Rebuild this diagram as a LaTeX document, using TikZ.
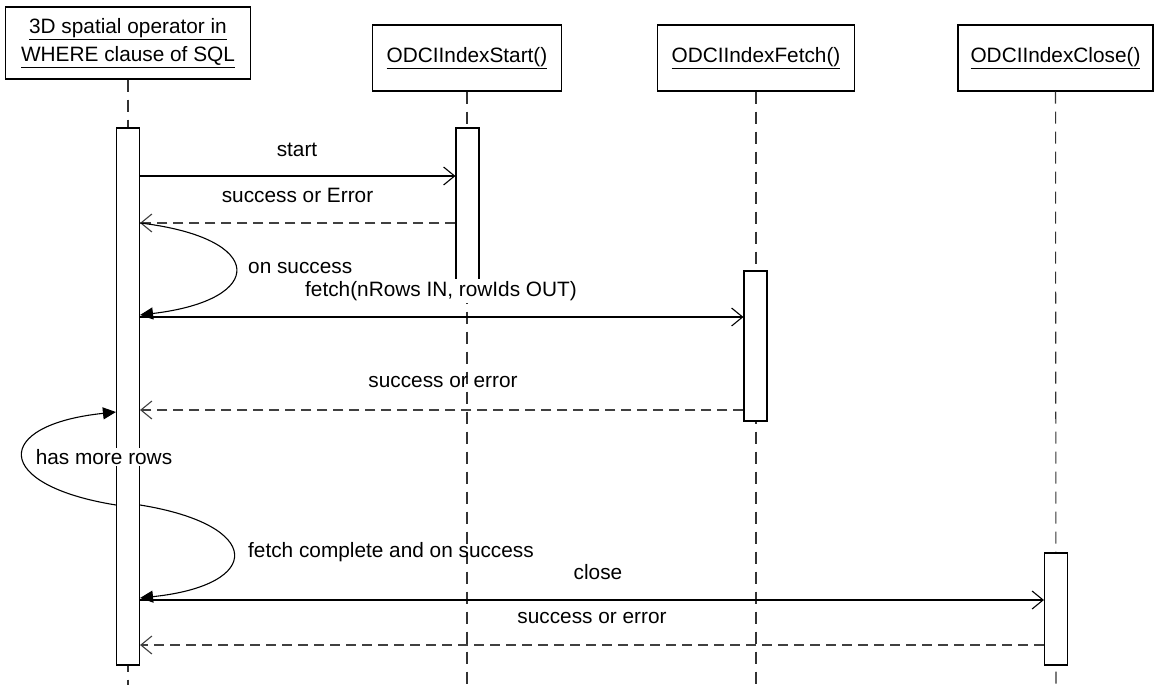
\documentclass[tikz,border=0pt]{standalone}
\usepackage{fontspec}
\setmainfont{Liberation Sans}
\usetikzlibrary{arrows.meta}

\begin{document}
\begin{tikzpicture}[
		x=1pt, y=-1pt,
		every node/.style={font=\fontsize{20.8}{28}\selectfont},
		object/.style={draw, line width=1.1pt, fill=white, minimum height=66pt, align=center},
		bar/.style={draw, line width=1.1pt, fill=white, minimum width=23pt, inner sep=0pt},
		lifeline/.style={line width=1.1pt, black!80, dash pattern=on 12pt off 8pt},
		call/.style={line width=1.1pt, -{Straight Barb[length=11pt,width=18pt]}},
		reply/.style={line width=1.1pt, black!75, dash pattern=on 10pt off 6pt, -{Straight Barb[length=11pt,width=18pt]}},
		self/.style={line width=1.1pt, -{Triangle[length=13pt,width=12pt]}},
		msglabel/.style={inner sep=1pt}
		]
		
		\useasboundingbox (0,0) rectangle (1154,685);
		
		% Objects
		\node[object, minimum width=245pt, minimum height=72pt] (sql) at (128,43)
		{\underline{3D spatial operator in}\\\underline{WHERE clause of SQL}};
		\node[object, minimum width=189pt] (start) at (467,58) {\underline{ODCIIndexStart()}};
		\node[object, minimum width=197pt] (fetch) at (756,58) {\underline{ODCIIndexFetch()}};
		\node[object, minimum width=195pt] (close) at (1055.5,58) {\underline{ODCIIndexClose()}};
		
		% Lifelines
		\coordinate (endA) at (128,685);
		\coordinate (endB) at (467,685);
		\coordinate (endC) at (756,685);
		\coordinate (endD) at (1056,685);
		\draw[lifeline] (sql) -- (endA);
		\draw[lifeline] (start) -- (endB);
		\draw[lifeline] (fetch) -- (endC);
		\draw[lifeline] (close) -- (endD);
		
		% Activation bars
		\node[bar, minimum height=537pt] (barA) at (128,396.5) {};
		\node[bar, minimum height=162pt] (barB) at (467.5,209) {};
		\node[bar, minimum height=150pt] (barC) at (755.5,346) {};
		\node[bar, minimum height=112pt] (barD) at (1056,609) {};
		
		% Message ends
		\coordinate (m1a) at (barA.east |- 0,176);
		\coordinate (m1b) at (barB.west |- 0,176);
		\coordinate (m2a) at (barA.east |- 0,223);
		\coordinate (m2b) at (barB.west |- 0,223);
		\coordinate (m3a) at (barA.east |- 0,317);
		\coordinate (m3b) at (barC.west |- 0,317);
		\coordinate (m4a) at (barA.east |- 0,410);
		\coordinate (m4b) at (barC.west |- 0,410);
		\coordinate (m5a) at (barA.east |- 0,600);
		\coordinate (m5b) at (barD.west |- 0,600);
		\coordinate (m6a) at (barA.east |- 0,645);
		\coordinate (m6b) at (barD.west |- 0,645);
		\coordinate (s1a) at (barA.east |- 0,223);
		\coordinate (s1b) at (barA.east |- 0,315);
		\coordinate (s2a) at (barA.west |- 0,505);
		\coordinate (s2b) at (barA.west |- 0,412);
		\coordinate (s3a) at (barA.east |- 0,505);
		\coordinate (s3b) at (barA.east |- 0,598);
		
		% Calls and replies
		\draw[call] (m1a) -- (m1b);
		\draw[reply] (m2b) -- (m2a);
		\draw[call] (m3a) -- (m3b);
		\draw[reply] (m4b) -- (m4a);
		\draw[call] (m5a) -- (m5b);
		\draw[reply] (m6b) -- (m6a);
		
		% Self messages
		\draw[self] (s1a) .. controls (267,238) and (267,300) .. (s1b);
		\draw[self] (s2a) .. controls (-8,485) and (-8,425) .. (s2b);
		\draw[self] (s3a) .. controls (264,525) and (264,585) .. (s3b);
		
		% Labels
		\node[msglabel] (lstart) at (297,150) {start};
		\node[msglabel] (lok1) at (297.5,195) {success or Error};
		\node[msglabel, anchor=west] (lon) at (247,268) {on success};
		\node[msglabel, fill=white, inner sep=2pt] (lfetch) at (441,291) {fetch(nRows IN, rowIds OUT)};
		\node[msglabel] (lok2) at (443,382) {success or error};
		\node[msglabel, fill=white] (lmore) at (104,457) {has more rows};
		\node[msglabel, anchor=west] (ldone) at (247,552) {fetch complete and on success};
		\node[msglabel] (lclose) at (598,572) {close};
		\node[msglabel] (lok3) at (592,618) {success or error};
		
	\end{tikzpicture}
\end{document}
